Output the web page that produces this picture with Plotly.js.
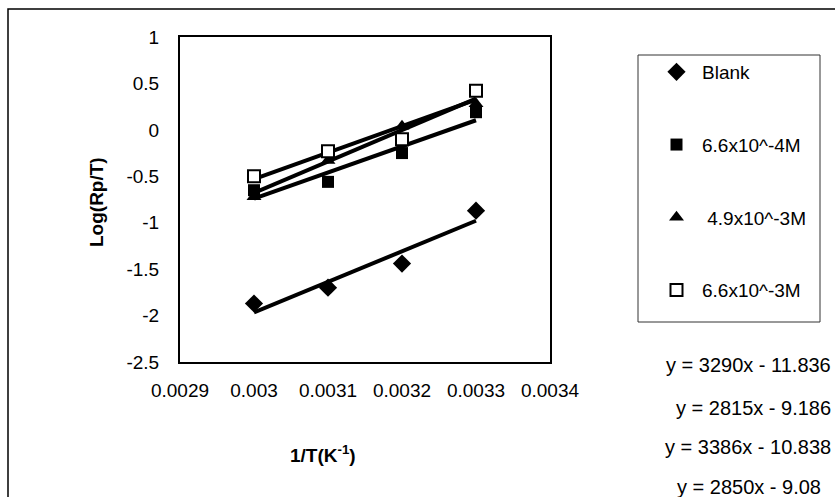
<!DOCTYPE html>
<html>
<head>
<meta charset="utf-8">
<script src="https://cdn.plot.ly/plotly-3.0.1.min.js"></script>
<style>
html,body{margin:0;padding:0;background:#fff;}
#chart{width:835px;height:497px;}
</style>
</head>
<body>
<div id="chart"></div>
<script>
// ---- data ----
const invT = [0.0030, 0.0031, 0.0032, 0.0033];
const seriesNames = ["Blank", "6.6x10^-4M", "\u00a04.9x10^-3M", "6.6x10^-3M"];
const blank = [-1.87, -1.70, -1.44, -0.87];
const c66e4 = [-0.65, -0.56, -0.25, 0.19];
const c49e3 = [-0.72, -0.33, 0.04, 0.28];
const c66e3 = [-0.50, -0.23, -0.10, 0.42];
// trendline equations shown on the chart
const slopes = [3290, 2815, 3386, 2850];
const intercepts = [-11.836, -9.186, -10.838, -9.08];
const equationText = ["y = 3290x - 11.836", "y = 2815x - 9.186", "y = 3386x - 10.838", "y = 2850x - 9.08"];
const xTickVals = [0.0029, 0.0030, 0.0031, 0.0032, 0.0033, 0.0034];
const xTickText = ["0.0029", "0.003", "0.0031", "0.0032", "0.0033", "0.0034"];
const yTickVals = [-2.5, -2, -1.5, -1, -0.5, 0, 0.5, 1];
const yTickText = ["-2.5", "-2", "-1.5", "-1", "-0.5", "0", "0.5", "1"];

const allSeries = [blank, c66e4, c49e3, c66e3];
const symbols = ["diamond", "square", "triangle-up", "square"];
const sizes = [14, 12, 13, 12];
const fills = ["black", "black", "black", "white"];

// pixel geometry helpers (plot area: x 180..550, y 37..362)
const W = 835, H = 497, L = 180, R = 550, T = 37, B = 362;
const px = v => (v - L) / (R - L);
const py = v => (B - v) / (B - T);

const traces = [];
// trendlines (behind markers)
slopes.forEach((m, i) => {
  const xs = [invT[0], invT[invT.length - 1]];
  traces.push({
    x: xs, y: xs.map(x => m * x + intercepts[i]),
    mode: "lines", line: {color: "black", width: 4},
    showlegend: false, hoverinfo: "skip"
  });
});
allSeries.forEach((ys, i) => {
  traces.push({
    x: invT, y: ys, name: seriesNames[i], mode: "markers",
    legendgroup: "g" + i,
    marker: {symbol: symbols[i], size: sizes[i], color: fills[i],
             line: {color: "black", width: i === 3 ? 2 : 0}}
  });
});

const font = {family: "Liberation Sans, Arial, sans-serif", size: 19, color: "black"};
const eqFont = {family: "Liberation Sans, Arial, sans-serif", size: 20, color: "black"};

const annotations = [
  {text: "<b>Log(Rp/T)</b>", xref: "paper", yref: "paper", x: px(96), y: py(202),
   xanchor: "center", yanchor: "middle", textangle: -90, showarrow: false, font: font},
  {text: "<b>1/T(K<sup>-1</sup>)</b>", xref: "paper", yref: "paper", x: px(323), y: py(454),
   xanchor: "center", yanchor: "middle", showarrow: false, font: font}
];
const eqY = [365, 408, 447, 487];
const eqRight = [833, 833, 833, 823];
equationText.forEach((t, i) => {
  annotations.push({text: t, xref: "paper", yref: "paper", x: px(eqRight[i]), y: py(eqY[i]),
    xanchor: "right", yanchor: "middle", showarrow: false, font: eqFont});
});

const layout = {
  width: W, height: H,
  margin: {l: L, r: W - R, t: T, b: H - B},
  paper_bgcolor: "white", plot_bgcolor: "white",
  font: font,
  showlegend: true,
  legend: {x: px(651), y: py(53), xanchor: "left", yanchor: "top",
           bgcolor: "rgba(0,0,0,0)", borderwidth: 0, tracegroupgap: 45,
           itemwidth: 41, font: font},
  xaxis: {range: [0.0029, 0.0034], tickvals: xTickVals, ticktext: xTickText,
          showgrid: false, zeroline: false, showline: true, linecolor: "black", linewidth: 2,
          mirror: true, ticks: "", ticklabelstandoff: 10, tickfont: font},
  yaxis: {range: [-2.5, 1], tickvals: yTickVals, ticktext: yTickText,
          showgrid: false, zeroline: false, showline: true, linecolor: "black", linewidth: 2,
          mirror: true, ticks: "", ticklabelstandoff: 15, tickfont: font},
  shapes: [
    {type: "rect", xref: "paper", yref: "paper", x0: px(8), x1: px(845), y0: py(9), y1: py(510),
     line: {color: "black", width: 1.5}},
    {type: "rect", xref: "paper", yref: "paper", x0: px(638), x1: px(820), y0: py(55), y1: py(322),
     line: {color: "#333", width: 1}}
  ],
  annotations: annotations
};

Plotly.newPlot("chart", traces, layout, {displayModeBar: false, staticPlot: true});
</script>
</body>
</html>
